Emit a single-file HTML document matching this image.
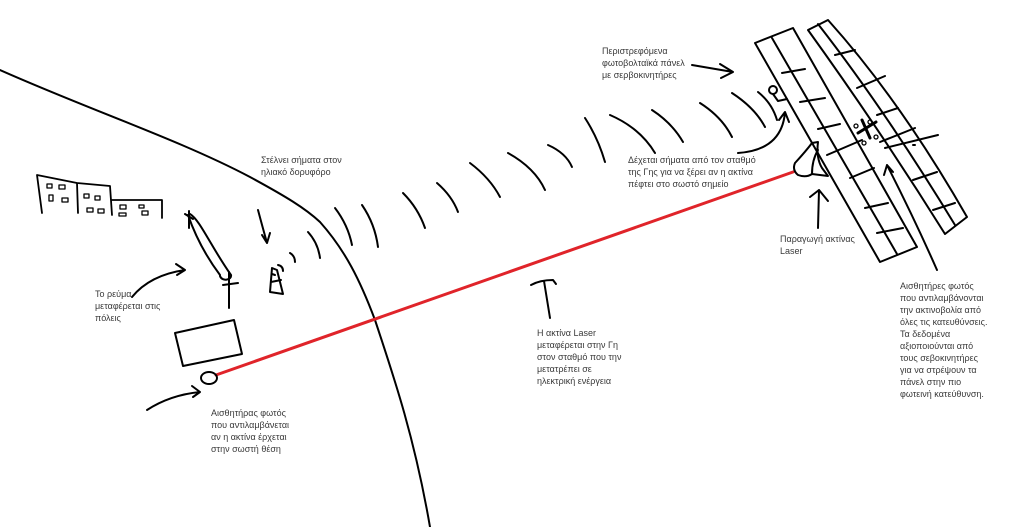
<!DOCTYPE html>
<html><head><meta charset="utf-8"><style>
html,body{margin:0;padding:0;background:#fff;}
body{width:1024px;height:527px;position:relative;overflow:hidden;font-family:"Liberation Sans","DejaVu Sans",sans-serif;}
.t{position:absolute;font-size:9px;line-height:12px;color:#3a3a3a;white-space:nowrap;}
svg{position:absolute;left:0;top:0;}
</style></head><body>
<svg width="1024" height="527" viewBox="0 0 1024 527" fill="none" stroke="#000" stroke-width="2" stroke-linecap="round" stroke-linejoin="round">
<!-- earth -->
<path d="M0,70 C90,110 180,140 250,177 C285,196 305,208 320,222 C345,250 360,280 375,320 C395,380 415,440 430,527"/>
<!-- signal arcs -->
<path d="M278,265 Q283,266 283,271"/>
<path d="M290,253 Q295,256 295,262"/>
<path d="M308,232 Q318,243 320,258"/>
<path d="M335,208 Q348,225 352,245"/>
<path d="M362,205 Q375,224 378,247"/>
<path d="M403,193 Q418,208 425,228"/>
<path d="M437,183 Q452,196 458,212"/>
<path d="M470,163 Q490,178 500,197"/>
<path d="M508,153 Q535,168 545,190"/>
<path d="M548,145 Q566,153 572,167"/>
<path d="M585,118 Q598,138 605,162"/>
<path d="M610,115 Q640,128 655,153"/>
<path d="M652,110 Q672,123 683,142"/>
<path d="M700,103 Q722,117 732,137"/>
<path d="M732,93 Q755,108 765,127"/>
<path d="M758,92 Q772,103 777,120"/>
<!-- laser -->
<path d="M216,375 L793,172" stroke="#e0242a" stroke-width="3"/>
<!-- buildings -->
<path d="M42,213 L37,175 L77,183 L78,213 M77,183 L110,186 L112,215 M112,200 L162,200 L162,218" stroke-width="1.8"/>
<g stroke-width="1.3">
<rect x="47" y="184" width="5" height="4"/><rect x="59" y="185" width="6" height="4"/>
<rect x="49" y="195" width="4" height="6"/><rect x="62" y="198" width="6" height="4"/>
<rect x="84" y="194" width="5" height="4"/><rect x="95" y="196" width="5" height="4"/>
<rect x="87" y="208" width="6" height="4"/><rect x="98" y="209" width="6" height="4"/>
<rect x="120" y="205" width="6" height="4"/><rect x="139" y="205" width="5" height="3"/>
<rect x="119" y="213" width="7" height="3"/><rect x="142" y="211" width="6" height="4"/>
</g>
<!-- power line loop -->
<path d="M188,215 C195,235 205,255 220,275 M190,214 C200,220 210,245 231,275 C232,280 222,282 220,276"/>
<path d="M185,214 L193,219 M189,211 L189,228 M223,285 L238,283 M229,272 L229,308"/>
<!-- box -->
<path d="M175,333 L234,320 L242,354 L183,366 Z"/>
<ellipse cx="209" cy="378" rx="8" ry="6"/>
<!-- down arrow -->
<path d="M258,210 Q262,225 267,243 M262,235 L267,243 L270,233"/>
<!-- tower -->
<path d="M272,268 L270,292 L283,294 L277,270 Z M271,282 L281,280 M272,274 L275,275"/>
<!-- left arrows -->
<path d="M132,297 Q150,275 185,270 M176,264 L185,270 L177,275"/>
<path d="M147,410 Q170,395 200,392 M192,386 L200,392 L193,397"/>
<!-- T arrow -->
<path d="M531,285 Q540,280 553,280 L556,284 M544,281 L550,318"/>
<!-- panel arrow -->
<path d="M692,65 L733,72 M720,64 L733,72 L721,78"/>
<!-- curved arrow -->
<path d="M738,153 Q782,150 785,112 M779,120 L785,112 L789,122"/>
<!-- small antenna -->
<circle cx="773" cy="90" r="4"/>
<path d="M773,94 L778,101 L787,99"/>
<!-- emitter -->
<path d="M795,163 Q806,151 812,143 L818,142 Q816,158 822,168 L828,176 L812,174 Q806,178 798,175 Q792,170 795,163 M812,174 Q812,160 818,150"/>
<!-- up arrow -->
<path d="M818,228 L819,190 M810,197 L819,190 L828,201"/>
<!-- panels left strip -->
<path d="M755,43 L793,28 L917,247 L880,262 Z"/>
<path d="M772,38 L897,254"/>
<path d="M782,73 L805,69 M800,102 L825,98 M818,129 L840,124 M827,155 L862,140 M850,178 L874,168 M865,208 L888,203 M877,233 L903,228"/>
<!-- right strip -->
<path d="M808,30 L828,20 Q900,100 967,217 L945,234 Q880,130 808,30 Z"/>
<path d="M818,24 Q885,110 955,225"/>
<path d="M835,55 L855,50 M857,88 L885,76 M877,115 L898,108 M880,142 L915,128 M913,145 L915,145 M885,148 L938,135 M913,180 L937,172 M933,210 L955,203"/>
<!-- arrow in panel -->
<path d="M887,165 Q915,220 937,270 M884,175 L887,165 L893,172"/>
<!-- motor x -->
<path d="M862,120 L870,138 M858,133 L876,122" stroke-width="3"/>
<g stroke-width="1.3"><circle cx="856" cy="126" r="2"/><circle cx="870" cy="122" r="2"/><circle cx="864" cy="143" r="2"/><circle cx="876" cy="137" r="2"/></g>
</svg>
<div class="t" style="left:602px;top:45px">Περιστρεφόμενα<br>φωτοβολταϊκά πάνελ<br>με σερβοκινητήρες</div>
<div class="t" style="left:628px;top:154px">Δέχεται σήματα από τον σταθμό<br>της Γης για να ξέρει αν η ακτίνα<br>πέφτει στο σωστό σημείο</div>
<div class="t" style="left:261px;top:154px">Στέλνει σήματα στον<br>ηλιακό δορυφόρο</div>
<div class="t" style="left:780px;top:233px">Παραγωγή ακτίνας<br>Laser</div>
<div class="t" style="left:900px;top:280px">Αισθητήρες φωτός<br>που αντιλαμβάνονται<br>την ακτινοβολία από<br>όλες τις κατευθύνσεις.<br>Τα δεδομένα<br>αξιοποιούνται από<br>τους σεβοκινητήρες<br>για να στρέψουν τα<br>πάνελ στην πιο<br>φωτεινή κατεύθυνση.</div>
<div class="t" style="left:537px;top:327px">Η ακτίνα Laser<br>μεταφέρεται στην Γη<br>στον σταθμό που την<br>μετατρέπει σε<br>ηλεκτρική ενέργεια</div>
<div class="t" style="left:95px;top:288px">Το ρεύμα<br>μεταφέρεται στις<br>πόλεις</div>
<div class="t" style="left:211px;top:407px">Αισθητήρας φωτός<br>που αντιλαμβάνεται<br>αν η ακτίνα έρχεται<br>στην σωστή θέση</div>
</body></html>
